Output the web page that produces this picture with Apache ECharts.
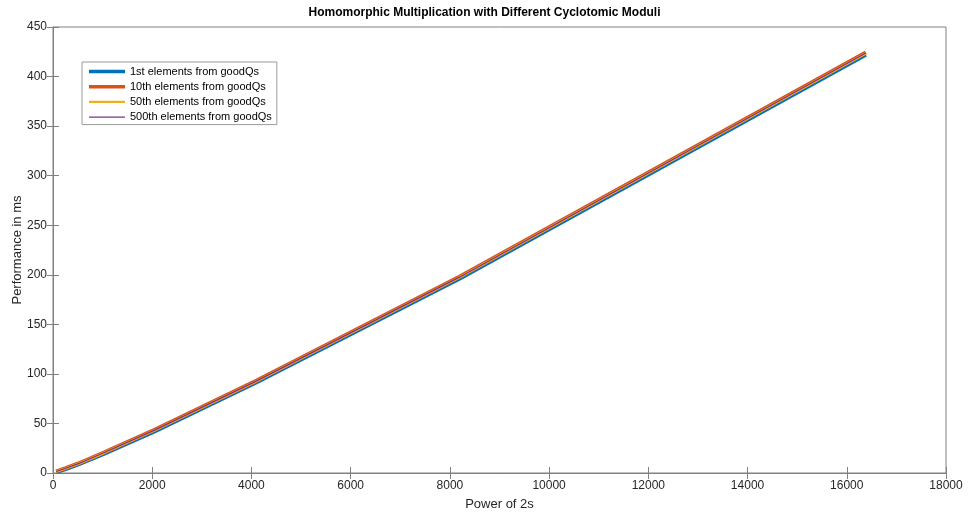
<!DOCTYPE html>
<html><head><meta charset="utf-8">
<script src="https://cdn.jsdelivr.net/npm/echarts@6/dist/echarts.min.js"></script>
<style>html,body{margin:0;padding:0;background:#fff}#c{width:969px;height:514px}</style>
</head><body><div id="c"></div>
<script>
const xPowers = [64, 128, 256, 512, 1024, 2048, 4096, 8192, 16384];
const first = [1.0, 1.9, 4.0, 8.6, 19.3, 42.0, 91.3, 196.0, 422.0];
const tenth = [1.6, 2.6, 4.9, 9.6, 20.6, 43.6, 93.0, 198.0, 424.3];
const fiftieth = [1.4, 2.4, 4.7, 9.3, 20.2, 43.1, 92.4, 197.3, 423.3];
const fivehundredth = [1.5, 2.5, 4.8, 9.4, 20.4, 43.3, 92.7, 197.6, 423.7];
const names = ['1st elements from goodQs','10th elements from goodQs','50th elements from goodQs','500th elements from goodQs'];
const colors = ['#0072BD','#D95319','#EDB120','#7E2F8E'];
const widths = [4, 4, 2.5, 1.2];
const xTicks = [0,2000,4000,6000,8000,10000,12000,14000,16000,18000];
const yTicks = [0,50,100,150,200,250,300,350,400,450];

const font = 'Liberation Sans, Arial, sans-serif';
const axisCol = '#262626';
const lineCol = '#808080';
const pair = a => xPowers.map((x,i)=>[x,a[i]]);
const allData = [first, tenth, fiftieth, fivehundredth];
const icons = widths.map(w => 'path://M0,0h40v' + w + 'h-40z');

const chart = echarts.init(document.getElementById('c'));
const tickAxis = {axisLine:{show:true,lineStyle:{color:lineCol}},
  axisTick:{show:true,inside:true,length:6,lineStyle:{color:lineCol}},
  splitLine:{show:false}};
chart.setOption({
  animation:false,
  backgroundColor:'#fff',
  title:{text:'Homomorphic Multiplication with Different Cyclotomic Moduli', left:'center', top:2,
    textStyle:{fontFamily:font,fontSize:12,fontWeight:'bold',color:'#000'}},
  grid:{left:53,right:23,top:27,bottom:41,show:true,borderColor:lineCol,borderWidth:1,
    containLabel:false, outerBoundsMode:'none'},
  legend:{orient:'vertical', left:82, top:62, itemWidth:36, itemHeight:9, itemGap:4.2,
    symbolKeepAspect:true,
    padding:[4,5,2,7], borderColor:'#9a9a9a', borderWidth:1, backgroundColor:'#fff',
    textStyle:{fontFamily:font,fontSize:11,color:'#000'},
    data:names.map((n,i)=>({name:n, icon:icons[i], itemStyle:{color:colors[i]}}))},
  xAxis:[Object.assign({type:'value', min:0, max:18000, interval:2000, name:'Power of 2s', nameLocation:'middle', nameGap:25,
    nameMoveOverlap:false,
    nameTextStyle:{fontFamily:font,fontSize:13,color:axisCol},
    axisLabel:{fontFamily:font,fontSize:12,color:axisCol,margin:7,formatter:v=>String(v)}}, tickAxis),
    Object.assign({type:'value', position:'top', min:0, max:18000, interval:2000, axisLabel:{show:false}}, tickAxis)],
  yAxis:[Object.assign({type:'value', min:0, max:450, interval:50, name:'Performance in ms', nameLocation:'middle', nameGap:29,
    nameMoveOverlap:false,
    nameTextStyle:{fontFamily:font,fontSize:13,color:axisCol},
    axisLabel:{fontFamily:font,fontSize:12,color:axisCol,margin:6,formatter:v=>String(v)}}, tickAxis),
    Object.assign({type:'value', position:'right', min:0, max:450, interval:50, axisLabel:{show:false}}, tickAxis)],
  series: allData.map((d,i)=>({name:names[i], type:'line', data:pair(d), symbol:'none', showSymbol:false,
    color:colors[i], lineStyle:{width:widths[i], color:colors[i]}, z:2+i}))
});
</script></body></html>
